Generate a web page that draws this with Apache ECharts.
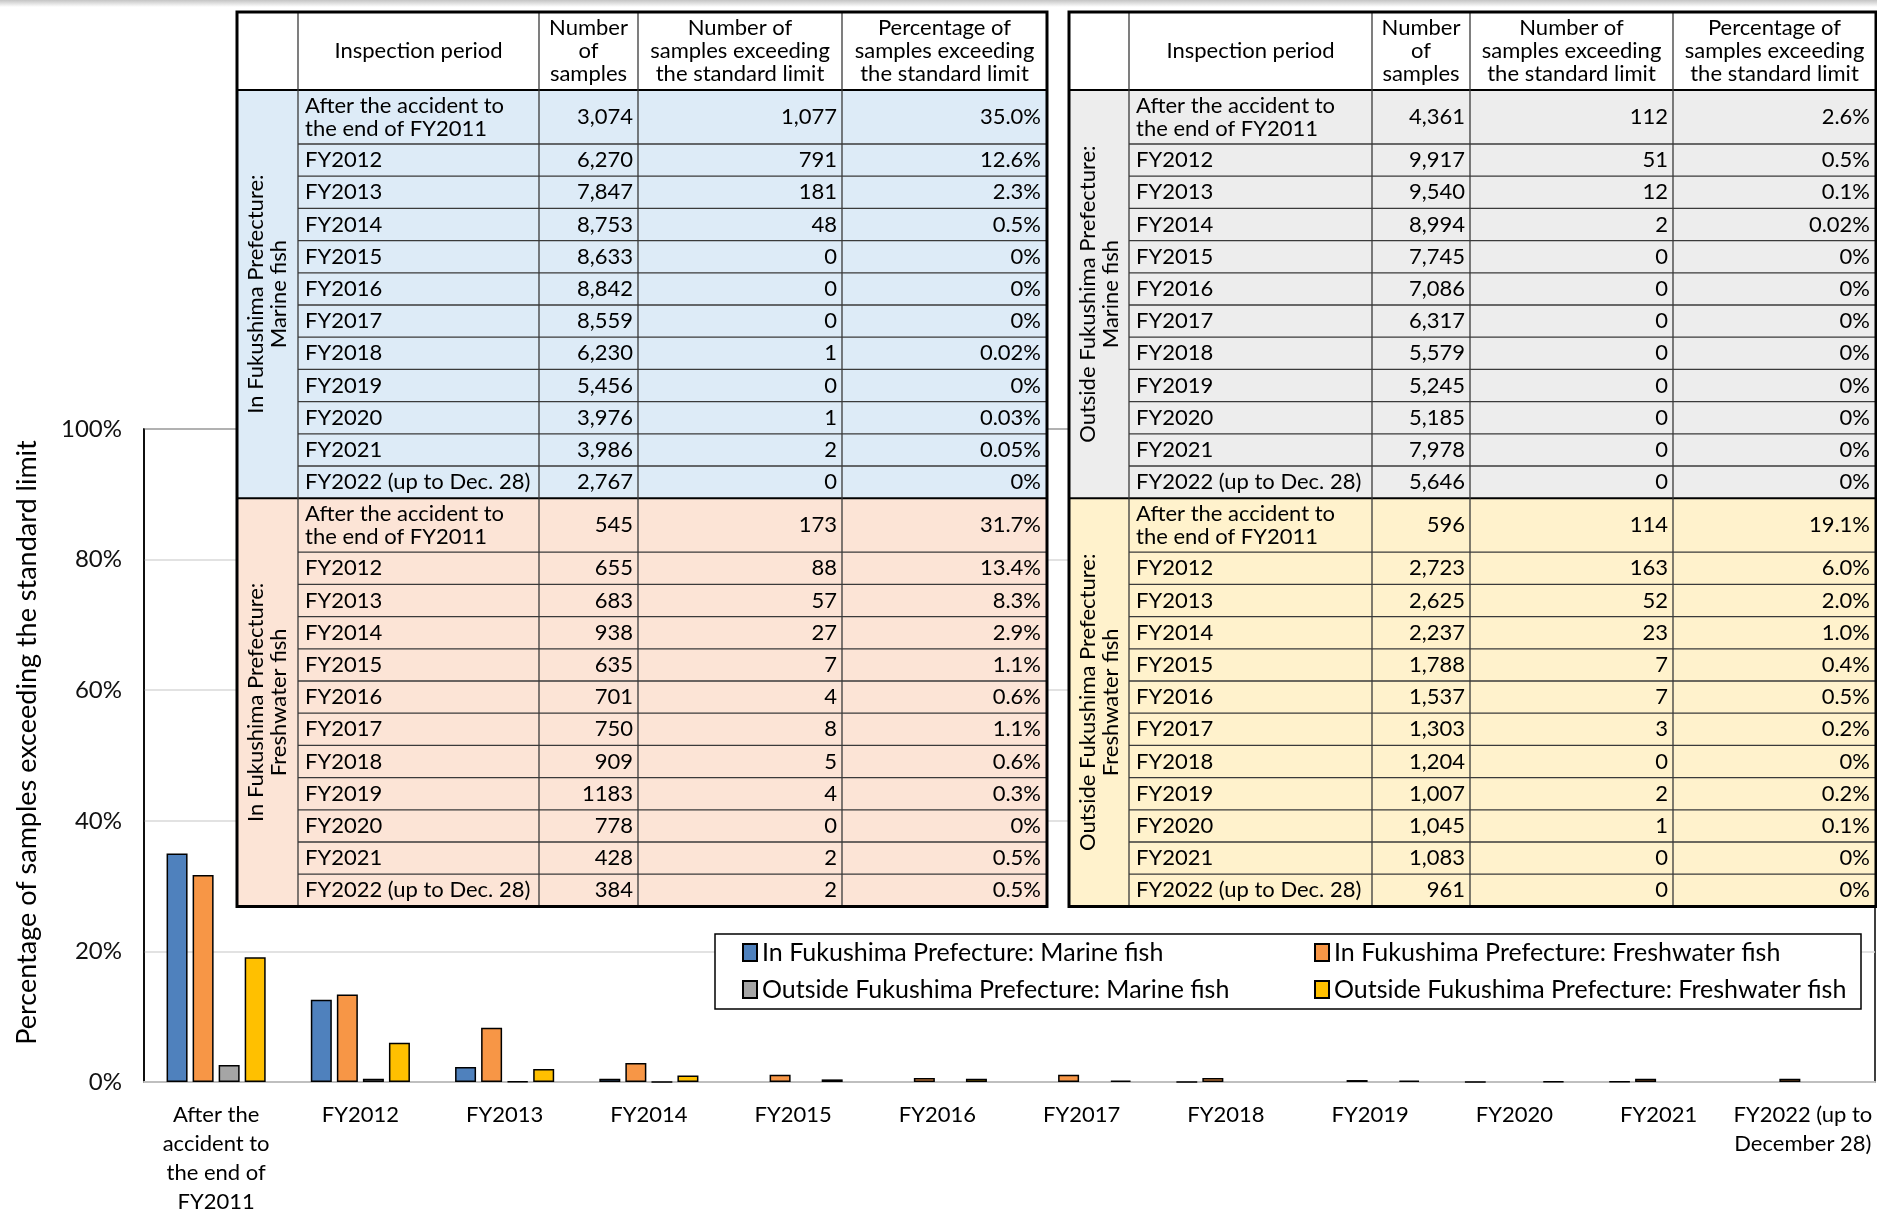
<!DOCTYPE html>
<html><head><meta charset="utf-8">
<script src="https://cdn.jsdelivr.net/npm/echarts@6/dist/echarts.min.js"></script>
<style>html,body{margin:0;padding:0;background:#fff}#c{width:1877px;height:1211px}</style>
</head><body><div id="c"></div>
<script>
// ---------- DATA ----------
const categories = ['After the\naccident to\nthe end of\nFY2011','FY2012','FY2013','FY2014','FY2015','FY2016','FY2017','FY2018','FY2019','FY2020','FY2021','FY2022 (up to\nDecember 28)'];
const seriesNames = ['In Fukushima Prefecture: Marine fish','In Fukushima Prefecture: Freshwater fish','Outside Fukushima Prefecture: Marine fish','Outside Fukushima Prefecture: Freshwater fish'];
const inFukuMarinePct   = [35.0, 12.6, 2.3, 0.5, 0, 0, 0, 0.02, 0, 0.03, 0.05, 0];
const inFukuFreshPct    = [31.7, 13.4, 8.3, 2.9, 1.1, 0.6, 1.1, 0.6, 0.3, 0, 0.5, 0.5];
const outFukuMarinePct  = [2.6, 0.5, 0.1, 0.02, 0, 0, 0, 0, 0, 0, 0, 0];
const outFukuFreshPct   = [19.1, 6.0, 2.0, 1.0, 0.4, 0.5, 0.2, 0, 0.2, 0.1, 0, 0];
const yTicks = [0, 20, 40, 60, 80, 100];

const headerLabels = ['Inspection period','Number\nof\nsamples','Number of\nsamples exceeding\nthe standard limit','Percentage of\nsamples exceeding\nthe standard limit'];
const tablePeriods = ['After the accident to\nthe end of FY2011','FY2012','FY2013','FY2014','FY2015','FY2016','FY2017','FY2018','FY2019','FY2020','FY2021','FY2022 (up to Dec. 28)'];
const groupLabels = ['In Fukushima Prefecture:\nMarine fish','In Fukushima Prefecture:\nFreshwater fish','Outside Fukushima Prefecture:\nMarine fish','Outside Fukushima Prefecture:\nFreshwater fish'];
const inMarineSamples = ['3,074','6,270','7,847','8,753','8,633','8,842','8,559','6,230','5,456','3,976','3,986','2,767'];
const inMarineExceed  = ['1,077','791','181','48','0','0','0','1','0','1','2','0'];
const inMarineText    = ['35.0%','12.6%','2.3%','0.5%','0%','0%','0%','0.02%','0%','0.03%','0.05%','0%'];
const inFreshSamples  = ['545','655','683','938','635','701','750','909','1183','778','428','384'];
const inFreshExceed   = ['173','88','57','27','7','4','8','5','4','0','2','2'];
const inFreshText     = ['31.7%','13.4%','8.3%','2.9%','1.1%','0.6%','1.1%','0.6%','0.3%','0%','0.5%','0.5%'];
const outMarineSamples = ['4,361','9,917','9,540','8,994','7,745','7,086','6,317','5,579','5,245','5,185','7,978','5,646'];
const outMarineExceed  = ['112','51','12','2','0','0','0','0','0','0','0','0'];
const outMarineText    = ['2.6%','0.5%','0.1%','0.02%','0%','0%','0%','0%','0%','0%','0%','0%'];
const outFreshSamples  = ['596','2,723','2,625','2,237','1,788','1,537','1,303','1,204','1,007','1,045','1,083','961'];
const outFreshExceed   = ['114','163','52','23','7','7','3','0','2','1','0','0'];
const outFreshText     = ['19.1%','6.0%','2.0%','1.0%','0.4%','0.5%','0.2%','0%','0.2%','0.1%','0%','0%'];

// ---------- STYLE / LAYOUT ----------
const FONT = 'Lato, "Open Sans", sans-serif';
const colors = ['#4F81BD','#F79646','#A5A5A5','#FFC000'];
const fills = ['#DDEBF7','#FCE4D6','#EDEDED','#FFF2CC'];
const leftCols = [237, 298, 539, 638, 842, 1047];
const rightCols = [1069, 1129, 1372, 1470, 1673, 1876];
const tableTop = 12, headerH = 78, firstRowH = 54, rowH = 32.2;
const TS = 22;

function txt(x, y, s, align, z) {
  return {type:'text', x:x, y:y, z:z||30, silent:true,
    style:{text:s, fill:'#000', fontSize:TS, fontFamily:FONT, align:align, verticalAlign:'middle', lineHeight:23}};
}
function hline(x1, x2, y, c, w) {
  return {type:'line', z:25, silent:true, shape:{x1:x1, y1:y, x2:x2, y2:y}, style:{stroke:c, lineWidth:w}};
}
function vline(x, y1, y2, c, w) {
  return {type:'line', z:25, silent:true, shape:{x1:x, y1:y1, x2:x, y2:y2}, style:{stroke:c, lineWidth:w}};
}
function buildTable(cols, groups) {
  const els = [];
  const L = cols[0], R = cols[5];
  els.push({type:'rect', z:20, silent:true, shape:{x:L, y:tableTop, width:R-L, height:headerH}, style:{fill:'#fff'}});
  headerLabels.forEach((h, i) => els.push(txt((cols[i+1] + cols[i+2]) / 2, tableTop + headerH / 2, h, 'center')));
  let y = tableTop + headerH;
  els.push(hline(L, R, y, '#000', 2));
  groups.forEach(g => {
    const gTop = y;
    const gH = firstRowH + rowH * (tablePeriods.length - 1);
    els.push({type:'rect', z:20, silent:true, shape:{x:L, y:gTop, width:R-L, height:gH}, style:{fill:g.fill}});
    els.push({type:'text', z:30, silent:true, x:(cols[0]+cols[1])/2, y:gTop + gH/2, rotation:Math.PI/2,
      style:{text:g.label, fill:'#000', fontSize:TS, fontFamily:FONT, align:'center', verticalAlign:'middle', lineHeight:23}});
    tablePeriods.forEach((p, i) => {
      const h = i === 0 ? firstRowH : rowH;
      const cy = y + h / 2;
      els.push(txt(cols[1] + 7, cy, p, 'left'));
      els.push(txt(cols[3] - 5, cy, g.samples[i], 'right'));
      els.push(txt(cols[4] - 5, cy, g.exceed[i], 'right'));
      els.push(txt(cols[5] - 6, cy, g.pct[i], 'right'));
      y += h;
      if (i < tablePeriods.length - 1) els.push(hline(cols[1], R, y, '#3a3a3a', 1.3));
    });
    els.push(hline(L, R, y, '#000', 2));
  });
  for (let k = 1; k <= 4; k++) els.push(vline(cols[k], tableTop, y, '#3a3a3a', 1.3));
  els.push({type:'rect', z:26, silent:true, shape:{x:L, y:tableTop, width:R-L, height:y-tableTop}, style:{fill:'none', stroke:'#000', lineWidth:3}});
  return els;
}

const graphics = [].concat(
  [{type:'rect', z:1, silent:true, shape:{x:0, y:0, width:1877, height:7},
    style:{fill:new echarts.graphic.LinearGradient(0,0,0,1,[{offset:0,color:'#c4c4c4'},{offset:1,color:'#ffffff'}])}}],
  buildTable(leftCols, [
    {label:groupLabels[0], fill:fills[0], samples:inMarineSamples, exceed:inMarineExceed, pct:inMarineText},
    {label:groupLabels[1], fill:fills[1], samples:inFreshSamples, exceed:inFreshExceed, pct:inFreshText}
  ]),
  buildTable(rightCols, [
    {label:groupLabels[2], fill:fills[2], samples:outMarineSamples, exceed:outMarineExceed, pct:outMarineText},
    {label:groupLabels[3], fill:fills[3], samples:outFreshSamples, exceed:outFreshExceed, pct:outFreshText}
  ]),
  [{type:'rect', z:5, silent:true, shape:{x:715, y:934, width:1146, height:75}, style:{fill:'#fff', stroke:'#000', lineWidth:1.5}}]
);

const seriesData = [inFukuMarinePct, inFukuFreshPct, outFukuMarinePct, outFukuFreshPct];
const legendCommon = {orient:'vertical', padding:0, itemWidth:14, itemHeight:17, itemGap:12, icon:'rect', z:20,
  textStyle:{fontSize:25, fontFamily:FONT, color:'#000'}};

const chart = echarts.init(document.getElementById('c'), null, {renderer:'canvas'});
chart.setOption({
  backgroundColor:'#fff',
  animation:false,
  textStyle:{fontFamily:FONT},
  grid:{left:144, right:2, top:429, bottom:129, show:true, borderColor:'#000', borderWidth:1.5, backgroundColor:'transparent', outerBoundsMode:'none', containLabel:false},
  legend:[
    Object.assign({left:742, top:940, data:[seriesNames[0], seriesNames[2]]}, legendCommon),
    Object.assign({left:1314, top:940, data:[seriesNames[1], seriesNames[3]]}, legendCommon)
  ],
  xAxis:{type:'category', data:categories,
    axisLine:{lineStyle:{color:'#bfbfbf', width:2}}, axisTick:{show:false},
    axisLabel:{fontSize:22, lineHeight:29, color:'#000', margin:18, interval:0, fontFamily:FONT}},
  yAxis:{type:'value', min:yTicks[0], max:yTicks[yTicks.length-1], interval:yTicks[1]-yTicks[0],
    name:'Percentage of samples exceeding the standard limit', nameLocation:'middle', nameGap:103,
    nameTextStyle:{fontSize:27, color:'#000', fontFamily:FONT, padding:[0,0,0,26]},
    axisLine:{show:true, lineStyle:{color:'#000', width:1.5}}, axisTick:{show:false},
    axisLabel:{fontSize:24, color:'#111', margin:22, formatter:'{value}%', fontFamily:FONT},
    splitLine:{lineStyle:{color:'#d9d9d9', width:1.5}}},
  graphic:{elements:graphics},
  series:seriesNames.map((n, i) => ({
    name:n, type:'bar', barWidth:21, barGap:'24%',
    data:seriesData[i].map(v => v === 0 ? {value:v, itemStyle:{borderWidth:0}} : v),
    itemStyle:{color:colors[i], borderColor:'#000', borderWidth:1.5}
  }))
});
</script></body></html>
